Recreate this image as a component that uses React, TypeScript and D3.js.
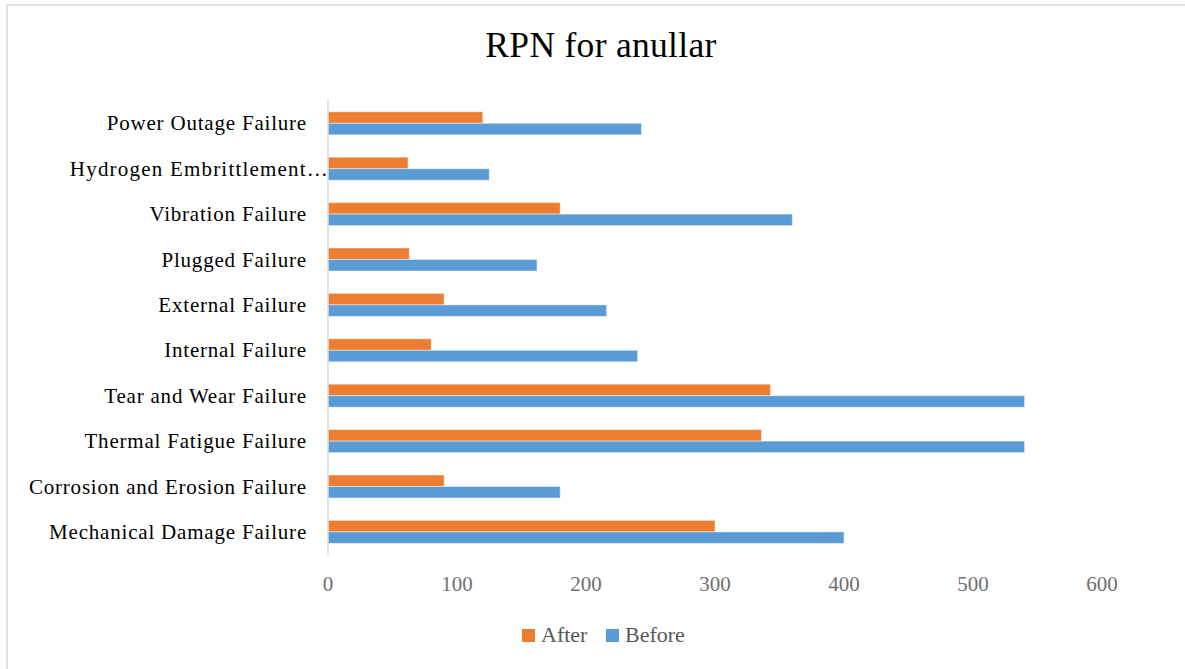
import React from "react";
import * as d3 from "d3";

// Failure modes, listed from top of the chart to bottom
const categories = [
  "Power Outage Failure",
  "Hydrogen Embrittlement…",
  "Vibration Failure",
  "Plugged Failure",
  "External Failure",
  "Internal Failure",
  "Tear and Wear Failure",
  "Thermal Fatigue Failure",
  "Corrosion and Erosion Failure",
  "Mechanical Damage Failure",
];

// RPN after mitigation
const afterValues = [120, 62, 180, 63, 90, 80, 343, 336, 90, 300];
// RPN before mitigation
const beforeValues = [243, 125, 360, 162, 216, 240, 540, 540, 180, 400];

const seriesNames = ["After", "Before"];
const seriesColors = ["#ED7D31", "#5B9BD5"];
const xTicks = [0, 100, 200, 300, 400, 500, 600];

const W = 1185;
const H = 669;
const FONT = "'Liberation Serif', 'Times New Roman', serif";

export default function App() {
  const x = d3.scaleLinear().domain([0, 600]).range([328, 1102]);
  const y = d3
    .scaleBand<string>()
    .domain(categories)
    .range([100.6, 554.6])
    .paddingInner(0.493)
    .paddingOuter(0.2465);
  const sub = d3
    .scaleBand<string>()
    .domain(seriesNames)
    .range([0, y.bandwidth()]);

  const rows = categories.map((c, i) => ({
    cat: c,
    vals: [afterValues[i], beforeValues[i]],
  }));

  return (
    <svg
      width={W}
      height={H}
      style={{ position: "absolute", left: 0, top: 0, display: "block" }}
      fontFamily={FONT}
    >
      <rect x={0} y={0} width={W} height={H} fill="#fff" />
      {/* chart frame */}
      <rect
        x={7}
        y={5}
        width={W + 10}
        height={H + 10}
        fill="#fff"
        stroke="#d9d9d9"
        strokeWidth={1.5}
      />

      <text
        x={601}
        y={57}
        textAnchor="middle"
        fontSize={35.5}
        letterSpacing={0.3}
        fill="#000"
      >
        RPN for anullar
      </text>

      {/* bars */}
      {rows.map((r) => (
        <g key={r.cat} transform={`translate(0,${y(r.cat)})`}>
          {r.vals.map((v, j) => (
            <rect
              key={seriesNames[j]}
              x={x(0)}
              y={sub(seriesNames[j])}
              width={x(v) - x(0)}
              height={sub.bandwidth()}
              fill={seriesColors[j]}
              stroke="#fff"
              strokeOpacity={0.45}
              strokeWidth={1}
            />
          ))}
        </g>
      ))}

      {/* category axis line */}
      <line
        x1={x(0)}
        x2={x(0)}
        y1={100}
        y2={555}
        stroke="#d9d9d9"
        strokeWidth={1.5}
      />

      {/* category labels */}
      {categories.map((c) => {
        const cy = (y(c) as number) + y.bandwidth() / 2;
        const truncated = c.endsWith("…");
        return (
          <text
            key={c}
            x={truncated ? 329 : 307}
            y={cy + 7}
            textAnchor="end"
            fontSize={21}
            letterSpacing={truncated ? 1.2 : 0.8}
            fill="#000"
          >
            {c}
          </text>
        );
      })}

      {/* value axis tick labels */}
      {xTicks.map((t) => (
        <text
          key={t}
          x={x(t)}
          y={591}
          textAnchor="middle"
          fontSize={21}
          fill="#6f6f6f"
        >
          {t}
        </text>
      ))}

      {/* legend */}
      {seriesNames.map((s, i) => {
        const lx = i === 0 ? 522 : 606;
        return (
          <g key={s}>
            <rect x={lx} y={629} width={13} height={13} fill={seriesColors[i]} />
            <text x={lx + 19} y={641.5} fontSize={22} fill="#595959">
              {s}
            </text>
          </g>
        );
      })}
    </svg>
  );
}
